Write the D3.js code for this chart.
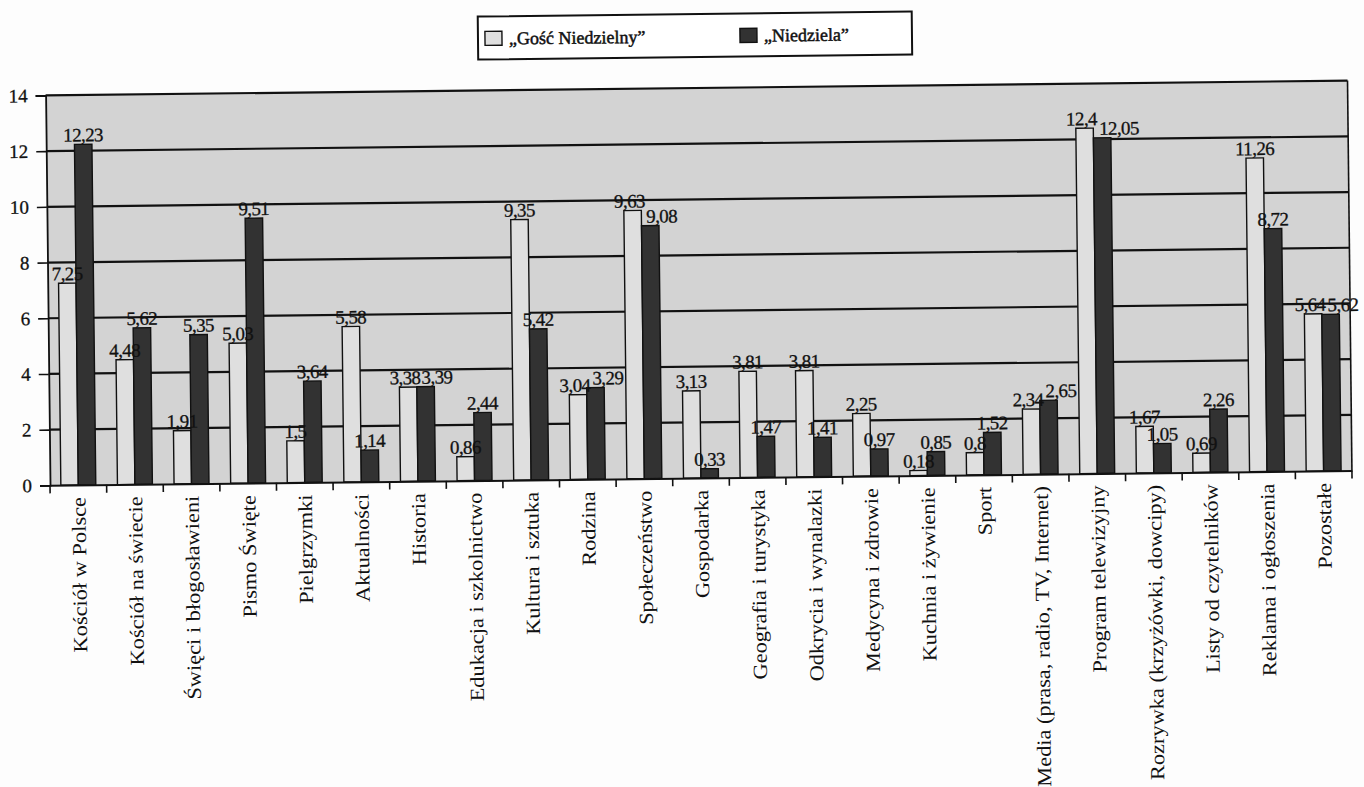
<!DOCTYPE html>
<html>
<head>
<meta charset="utf-8">
<script src="https://cdn.jsdelivr.net/npm/d3@7"></script>
<style>
  body { margin: 0; background: #fdfdfd; }
  svg { display: block; }
</style>
</head>
<body>
<div class="chart"></div>
<script>
const width = 1364
const height = 787

const categories = [
  "Kościół w Polsce", "Kościół na świecie", "Święci i błogosławieni", "Pismo Święte",
  "Pielgrzymki", "Aktualności", "Historia", "Edukacja i szkolnictwo", "Kultura i sztuka",
  "Rodzina", "Społeczeństwo", "Gospodarka", "Geografia i turystyka", "Odkrycia i wynalazki",
  "Medycyna i zdrowie", "Kuchnia i żywienie", "Sport", "Media (prasa, radio, TV, Internet)",
  "Program telewizyjny", "Rozrywka (krzyżówki, dowcipy)", "Listy od czytelników",
  "Reklama i ogłoszenia", "Pozostałe"
];
const gosc = [7.25, 4.48, 1.91, 5.03, 1.5, 5.58, 3.38, 0.86, 9.35, 3.04, 9.63, 3.13, 3.81, 3.81, 2.25, 0.18, 0.8, 2.34, 12.4, 1.67, 0.69, 11.26, 5.64];
const niedziela = [12.23, 5.62, 5.35, 9.51, 3.64, 1.14, 3.39, 2.44, 5.42, 3.29, 9.08, 0.33, 1.47, 1.41, 0.97, 0.85, 1.52, 2.65, 12.05, 1.05, 2.26, 8.72, 5.62];
const seriesNames = ["„Gość Niedzielny”", "„Niedziela”"];
const yTicks = [0, 2, 4, 6, 8, 10, 12, 14];

const colors = ["#dfdfdf", "#323232"];
const serif = "'Liberation Serif', 'Times New Roman', serif";

const rows = categories.map((c, i) => ({cat: c, values: [gosc[i], niedziela[i]]}));

const x = d3.scaleBand()
  .domain(categories)
  .range([50, 1352])
  .padding(0);

const x1 = d3.scaleBand()
  .domain([0, 1])
  .range([0, x.bandwidth()])
  .paddingInner(0)
  .paddingOuter(0.62);

const y = d3.scaleLinear()
  .domain([0, 14])
  .range([478, 88]);

const svg = d3.create("svg")
  .attr("width", width)
  .attr("height", height);

// put it in the page first so text can be measured
document.querySelector(".chart").append(svg.node());

// the scan is a little tilted
const g = svg.append("g")
  .attr("transform", "rotate(-0.65 700 480)");

// plot area
g.append("rect")
  .attr("x", x.range()[0])
  .attr("y", y(14))
  .attr("width", x.range()[1] - x.range()[0])
  .attr("height", y(0) - y(14))
  .attr("fill", "#d3d3d3");

g.append("g")
  .selectAll("line")
  .data(yTicks.filter(d => d > 0))
  .join("line")
  .attr("x1", x.range()[0])
  .attr("x2", x.range()[1])
  .attr("y1", d => y(d))
  .attr("y2", d => y(d))
  .attr("stroke", "#111")
  .attr("stroke-width", 2.2);

g.append("line")
  .attr("x1", x.range()[1])
  .attr("x2", x.range()[1])
  .attr("y1", y(14))
  .attr("y2", y(0))
  .attr("stroke", "#111")
  .attr("stroke-width", 1.6);

// bars
const groups = g.append("g")
  .selectAll("g")
  .data(rows)
  .join("g")
  .attr("transform", d => `translate(${x(d.cat)},0)`);

groups.selectAll("rect")
  .data(d => d.values.map((v, k) => ({k, v})))
  .join("rect")
  .attr("x", d => x1(d.k))
  .attr("y", d => y(d.v))
  .attr("width", x1.bandwidth())
  .attr("height", d => y(0) - y(d.v))
  .attr("fill", d => colors[d.k])
  .attr("stroke", "#111")
  .attr("stroke-width", 1.4);

groups.selectAll("text")
  .data(d => d.values.map((v, k) => ({k, v})))
  .join("text")
  .attr("x", d => x1(d.k) + x1.bandwidth() / 2)
  .attr("y", d => y(d.v) - 3)
  .attr("text-anchor", "middle")
  .style("font", `19px ${serif}`)
  .style("letter-spacing", "-0.6px")
  .attr("fill", "#111")
  .attr("stroke", "#111")
  .attr("stroke-width", 0.3)
  .text(d => String(d.v).replace(".", ","));

// push the two labels of a pair apart when they collide (like the original does)
groups.each(function() {
  const t = d3.select(this).selectAll("text").nodes();
  const a = t[0].getBBox(), b = t[1].getBBox();
  const overlapY = Math.abs(a.y - b.y) < a.height * 0.8;
  const overlapX = a.x + a.width - b.x + 1;
  if (overlapY && overlapX > 0) {
    d3.select(t[0]).attr("x", +t[0].getAttribute("x") - 3);
    d3.select(t[1]).attr("x", +t[1].getAttribute("x") + overlapX - 3);
  }
});

// y axis
const yAxis = g.append("g")
  .attr("transform", `translate(${x.range()[0]},0)`)
  .call(d3.axisLeft(y).tickValues(yTicks).tickSize(10).tickPadding(8).tickFormat(d3.format("d")));
yAxis.select(".domain").attr("stroke", "#111").attr("stroke-width", 1.8);
yAxis.selectAll(".tick line").attr("stroke", "#111").attr("stroke-width", 1.6);
yAxis.selectAll(".tick text")
  .style("font", `19px ${serif}`)
  .attr("fill", "#111")
  .attr("stroke", "#111")
  .attr("stroke-width", 0.3);

// x axis
const xAxis = g.append("g")
  .attr("transform", `translate(0,${y(0)})`)
  .call(d3.axisBottom(x).tickSize(0).tickPadding(0));
xAxis.select(".domain").attr("stroke", "#111").attr("stroke-width", 2);
xAxis.selectAll(".tick text")
  .attr("transform", "translate(0,12) rotate(-90) scale(1.12,1)")
  .attr("text-anchor", "end")
  .attr("dy", "0.35em")
  .attr("y", 0)
  .style("font", `20px ${serif}`)
  .attr("fill", "#111");

xAxis.append("g")
  .selectAll("line")
  .data(categories.map(c => x(c)).concat([x.range()[1]]))
  .join("line")
  .attr("x1", d => d)
  .attr("x2", d => d)
  .attr("y1", 0)
  .attr("y2", 8)
  .attr("stroke", "#111")
  .attr("stroke-width", 1.6);

// legend
const legend = g.append("g");
legend.append("rect")
  .attr("x", 483)
  .attr("y", 14)
  .attr("width", 434)
  .attr("height", 43)
  .attr("fill", "#fff")
  .attr("stroke", "#111")
  .attr("stroke-width", 2);

const legendX = [490, 745];
const items = legend.selectAll("g.item")
  .data(seriesNames)
  .join("g")
  .attr("class", "item")
  .attr("transform", (d, i) => `translate(${legendX[i]},36)`);

items.append("rect")
  .attr("x", 0)
  .attr("y", -7)
  .attr("width", 17)
  .attr("height", 14)
  .attr("fill", (d, i) => colors[i])
  .attr("stroke", "#111")
  .attr("stroke-width", 1.4);

items.append("text")
  .attr("x", 24)
  .attr("y", 0)
  .attr("dy", "0.35em")
  .style("font", `18px ${serif}`)
  .attr("fill", "#111")
  .attr("stroke", "#111")
  .attr("stroke-width", 0.5)
  .text(d => d);
</script>
</body>
</html>
